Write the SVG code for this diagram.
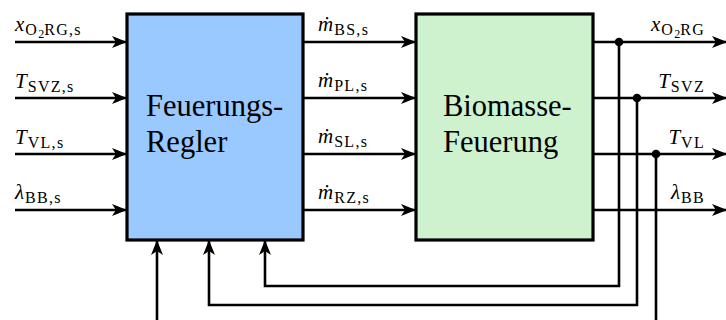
<svg xmlns="http://www.w3.org/2000/svg" width="726" height="320" viewBox="0 0 726 320">
<style>
.ln{fill:none;stroke:#000;stroke-width:2.6;stroke-linejoin:miter}
.ar{marker-end:url(#arr)}
.box{stroke:#000;stroke-width:3.2}
.t{font-size:21px;fill:#000}
.i{font-style:italic;letter-spacing:1px}
.s{font-size:16px;letter-spacing:1.3px}
.e{text-anchor:end}
.big{font-size:30.5px;fill:#000}
</style>
<defs>
<marker id="arr" markerUnits="userSpaceOnUse" markerWidth="16" markerHeight="14" viewBox="0 0 16 14" refX="14" refY="7" orient="auto">
<path d="M0,1 L15,7 L0,13 L4,7 z" fill="#000"/>
</marker>
</defs>
<g id="regler" font-family="Liberation Serif, DejaVu Serif, serif">
<rect class="box" x="127" y="14" width="176" height="226" fill="#99c9ff"/>
<text class="big" x="146" y="116">Feuerungs-</text>
<text class="big" x="146" y="152">Regler</text>
</g>
<g id="feuerung" font-family="Liberation Serif, DejaVu Serif, serif">
<rect class="box" x="416" y="14" width="177" height="226" fill="#cdf2cd"/>
<text class="big" x="443" y="116">Biomasse-</text>
<text class="big" x="443" y="152">Feuerung</text>
</g>
<g id="connectors">
<path class="ln ar" d="M15,42 H126"/>
<path class="ln ar" d="M15,98 H126"/>
<path class="ln ar" d="M15,154 H126"/>
<path class="ln ar" d="M15,210 H126"/>
<path class="ln ar" d="M304,42 H415"/>
<path class="ln ar" d="M304,98 H415"/>
<path class="ln ar" d="M304,154 H415"/>
<path class="ln ar" d="M304,210 H415"/>
<path class="ln ar" d="M594,42 H726"/>
<path class="ln ar" d="M594,98 H726"/>
<path class="ln ar" d="M594,154 H726"/>
<path class="ln ar" d="M594,210 H726"/>
<path class="ln ar" d="M619,42 V286 H265 V241"/>
<path class="ln ar" d="M637,98 V305 H209 V241"/>
<path class="ln" d="M656,154 V320"/>
<path class="ln ar" d="M157,320 V241"/>
<circle cx="619" cy="42" r="4.3"/>
<circle cx="637" cy="98" r="4.3"/>
<circle cx="656" cy="154" r="4.3"/>
</g>
<g id="labels" font-family="Liberation Serif, DejaVu Serif, serif">
<text class="t" x="15" y="31"><tspan class="i">x</tspan><tspan class="s" dy="4">O</tspan><tspan font-size="12" dy="3">2</tspan><tspan class="s" dy="-3">RG,s</tspan></text>
<text class="t" x="15" y="88"><tspan class="i">T</tspan><tspan class="s" dy="4">SVZ,s</tspan></text>
<text class="t" x="15" y="144"><tspan class="i">T</tspan><tspan class="s" dy="4">VL,s</tspan></text>
<text class="t" x="15" y="199"><tspan class="i">λ</tspan><tspan class="s" dy="4">BB,s</tspan></text>
<text class="t" x="318" y="31"><tspan class="i">ṁ</tspan><tspan class="s" dy="4">BS,s</tspan></text>
<text class="t" x="318" y="87"><tspan class="i">ṁ</tspan><tspan class="s" dy="4">PL,s</tspan></text>
<text class="t" x="318" y="143"><tspan class="i">ṁ</tspan><tspan class="s" dy="4">SL,s</tspan></text>
<text class="t" x="318" y="199"><tspan class="i">ṁ</tspan><tspan class="s" dy="4">RZ,s</tspan></text>
<text class="t e" x="705" y="31"><tspan class="i">x</tspan><tspan class="s" dy="4">O</tspan><tspan font-size="12" dy="3">2</tspan><tspan class="s" dy="-3">RG</tspan></text>
<text class="t e" x="705" y="88"><tspan class="i">T</tspan><tspan class="s" dy="4">SVZ</tspan></text>
<text class="t e" x="705" y="144"><tspan class="i">T</tspan><tspan class="s" dy="4">VL</tspan></text>
<text class="t e" x="705" y="199"><tspan class="i">λ</tspan><tspan class="s" dy="4">BB</tspan></text>
</g>
</svg>
